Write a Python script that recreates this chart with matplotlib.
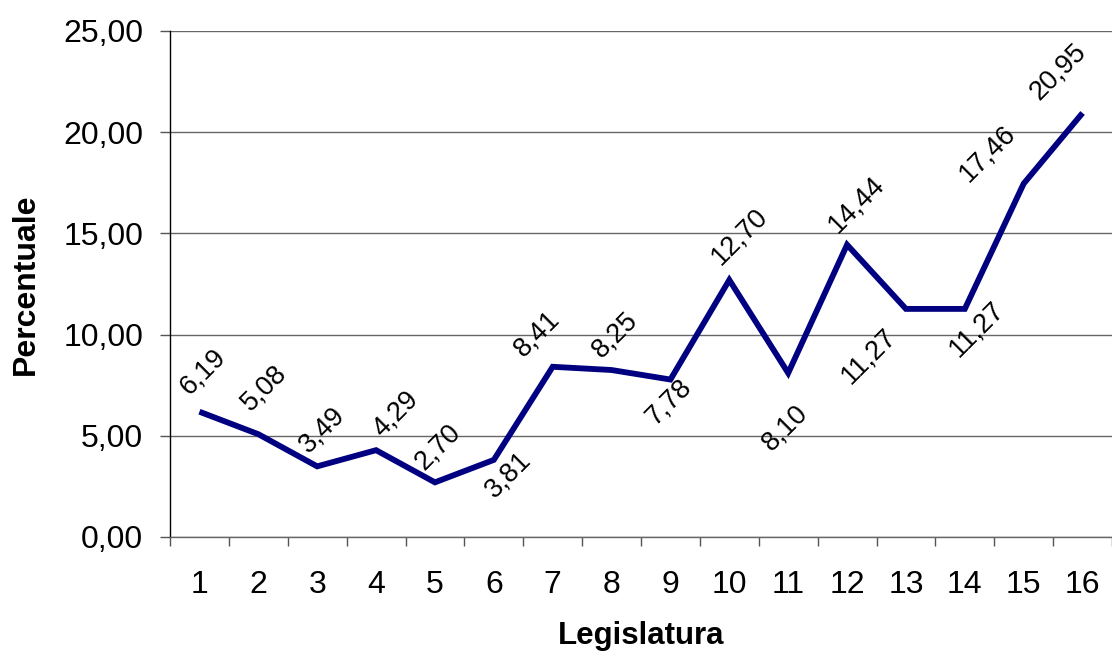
#!/usr/bin/env python3

import matplotlib
matplotlib.use("Agg")
import matplotlib.pyplot as plt
from matplotlib.ticker import FuncFormatter, FixedLocator

legislature = list(range(1, 17))
percentuale = [6.19, 5.08, 3.49, 4.29, 2.70, 3.81, 8.41, 8.25,
               7.78, 12.70, 8.10, 14.44, 11.27, 11.27, 17.46, 20.95]

# label offsets (pixels) relative to each point, as placed in the original
label_offsets = [(4, 40), (6, 46), (5, 36), (20, 36), (3, 35), (14, -15),
                 (-16, 33), (4, 35), (-2, -22), (10, 43), (-3, -55),
                 (9, 40), (-37, -47), (12, -20), (-36, 30), (-24, 41)]


def comma(v, pos=None):
    return f"{v:.2f}".replace(".", ",")


plt.rcParams["font.family"] = ["Liberation Sans", "DejaVu Sans"]

fig = plt.figure(figsize=(11.12, 6.52), dpi=100)
ax = fig.add_axes([170 / 1112, 115 / 652, 942 / 1112, 506 / 652])

ax.plot(legislature, percentuale, color="#000080", lw=4.2,
        solid_joinstyle="miter", solid_capstyle="butt", zorder=3)

for x, y, (dx, dy) in zip(legislature, percentuale, label_offsets):
    ax.annotate(comma(y), (x, y), xytext=(dx, dy), textcoords="offset pixels",
                rotation=45, rotation_mode="anchor", ha="center", va="center",
                fontsize=19.5, color="black", zorder=4)

ax.set_xlim(0.5, 16.5)
ax.set_ylim(0, 25)
ax.set_yticks([0, 5, 10, 15, 20, 25])
ax.yaxis.set_major_formatter(FuncFormatter(comma))
ax.set_xticks(legislature)
ax.xaxis.set_minor_locator(FixedLocator([i + 0.5 for i in range(0, 17)]))
ax.tick_params(axis="x", which="major", length=0, pad=24, labelsize=23)
ax.tick_params(axis="x", which="minor", length=6.5, width=1, color="#555555")
ax.tick_params(axis="y", length=7.2, width=1, pad=12, labelsize=23, color="#555555")

ax.grid(axis="y", color="#666666", lw=1)
ax.set_axisbelow(True)
for s in ("top", "right"):
    ax.spines[s].set_visible(False)
ax.spines["left"].set_color("black")
ax.spines["left"].set_linewidth(1)
ax.spines["bottom"].set_color("#666666")
ax.spines["bottom"].set_linewidth(1)

ax.set_xlabel("Legislatura", fontsize=22.5, fontweight="bold", labelpad=15)
ax.set_ylabel("Percentuale", fontsize=23, fontweight="bold", labelpad=16)

fig.savefig("out.png", dpi=100)
